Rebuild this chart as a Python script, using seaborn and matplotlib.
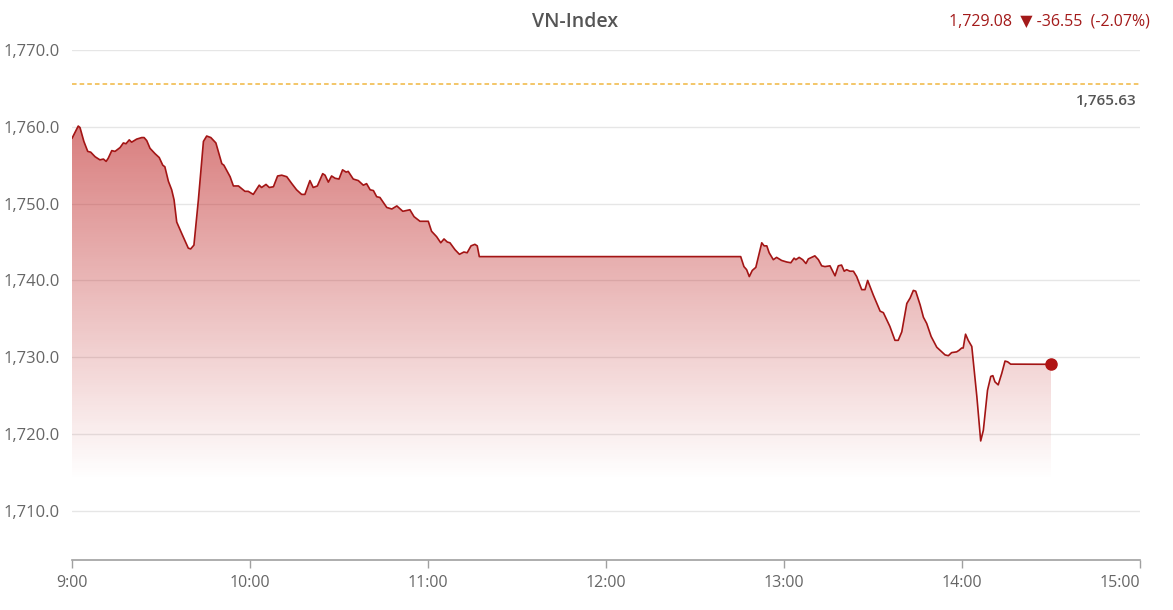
import numpy as np
import pandas as pd
import matplotlib
matplotlib.use("Agg")
import matplotlib.pyplot as plt
import matplotlib.transforms as mtransforms
import seaborn as sns

# minutes after 9:00 and VN-Index value
minutes = [0, 2.1, 2.7, 4.0, 5.3, 6.3, 7.8, 9.4, 10.6, 11.5, 12.2, 13.4, 14.5, 16.2, 17.3,
           18.2, 19.3, 20.1, 21.8, 23.5, 24.3, 25.2, 26.3, 28.0, 29.4, 30.6, 31.3, 32.5,
           33.6, 34.4, 35.3, 37.0, 39.2, 40.0, 41.1, 42.6, 44.3, 45.4, 46.8, 48.5, 50.5,
           51.2, 53.3, 54.4, 56.1, 58.3, 59.4, 61.1, 63.1, 63.9, 65.4, 66.5, 67.9, 69.3,
           70.7, 72.4, 74.1, 75.7, 77.4, 78.5, 80.2, 81.3, 82.7, 84.5, 85.3, 86.4, 87.5,
           88.7, 90.0, 91.2, 92.4, 93.1, 94.8, 96.5, 98.2, 99.3, 100.5, 101.6, 102.7,
           103.8, 106.1, 107.8, 109.5, 111.5, 113.9, 115.3, 117.3, 120.1, 121.2, 122.9,
           124.3, 125.4, 126.5, 127.4, 129.1, 130.6, 132.1, 133.2, 134.5, 135.8, 136.6,
           137.3, 225.4, 226.5, 227.4, 228.3, 229.3, 230.5, 232.5, 233.3, 234.2, 235.0,
           236.4, 237.5, 239.2, 240.9, 242.3, 243.4, 244.0, 245.1, 246.3, 247.4, 248.2,
           250.4, 251.6, 252.7, 253.8, 255.5, 257.2, 258.3, 259.4, 260.3, 261.1, 262.2,
           263.4, 264.5, 266.2, 267.3, 268.2, 270.1, 272.4, 273.5, 275.7, 277.4, 278.5,
           279.7, 281.4, 282.5, 283.6, 284.4, 285.9, 287.0, 288.1, 289.6, 291.5, 292.6,
           294.3, 295.4, 296.5, 298.2, 299.0, 299.9, 300.4, 301.2, 302.1, 303.3, 305.0,
           306.3, 307.2, 308.6, 309.7, 310.4, 311.1, 312.2, 313.4, 314.5, 315.4, 316.4,
           330.0]
values = [1758.5, 1760.1, 1759.9, 1758.1, 1756.8, 1756.7, 1756.1, 1755.7, 1755.8, 1755.5,
          1755.9, 1756.9, 1756.8, 1757.3, 1757.9, 1757.8, 1758.3, 1758.0, 1758.4, 1758.6,
          1758.6, 1758.2, 1757.2, 1756.5, 1756.0, 1755.0, 1754.8, 1752.9, 1751.8, 1750.5,
          1747.6, 1746.1, 1744.2, 1744.1, 1744.6, 1750.5, 1758.1, 1758.8, 1758.6, 1757.9,
          1755.2, 1755.0, 1753.5, 1752.3, 1752.3, 1751.6, 1751.6, 1751.2, 1752.4, 1752.1,
          1752.5, 1752.1, 1752.2, 1753.6, 1753.7, 1753.5, 1752.6, 1751.8, 1751.2, 1751.2,
          1753.0, 1752.1, 1752.3, 1753.9, 1753.7, 1752.8, 1753.6, 1753.3, 1753.2, 1754.4,
          1754.1, 1754.2, 1753.2, 1753.0, 1752.4, 1752.6, 1751.8, 1751.7, 1750.9, 1750.8,
          1749.5, 1749.3, 1749.7, 1749.0, 1749.2, 1748.3, 1747.7, 1747.7, 1746.4, 1745.7,
          1744.9, 1745.4, 1745.0, 1744.9, 1744.0, 1743.4, 1743.7, 1743.6, 1744.5, 1744.7,
          1744.5, 1743.1, 1743.1, 1741.8, 1741.4, 1740.5, 1741.3, 1741.7, 1744.9, 1744.5,
          1744.5, 1743.6, 1742.7, 1743.0, 1742.6, 1742.4, 1742.3, 1742.9, 1742.7, 1743.0,
          1742.7, 1742.2, 1742.8, 1743.2, 1742.7, 1741.9, 1741.8, 1741.9, 1740.6, 1741.9,
          1742.0, 1741.2, 1741.4, 1741.2, 1741.2, 1740.5, 1738.8, 1738.8, 1740.0, 1738.1,
          1736.0, 1735.8, 1734.0, 1732.2, 1732.2, 1733.3, 1737.0, 1737.7, 1738.7, 1738.6,
          1736.8, 1735.2, 1734.4, 1732.7, 1731.3, 1730.9, 1730.3, 1730.2, 1730.6, 1730.7,
          1730.9, 1731.2, 1731.2, 1733.0, 1732.2, 1731.4, 1724.9, 1719.1, 1720.5, 1725.7,
          1727.5, 1727.6, 1726.8, 1726.4, 1727.9, 1729.5, 1729.4, 1729.1, 1729.08]

ref_close = 1765.63
y_ticks = [1710, 1720, 1730, 1740, 1750, 1760, 1770]
x_ticks = [0, 60, 120, 180, 240, 300, 360]
x_labels = ["9:00", "10:00", "11:00", "12:00", "13:00", "14:00", "15:00"]
title = "VN-Index"
summary = "1,729.08  \u25bc -36.55  (-2.07%)"

line_red = "#a31515"
grid_col = "#e6e6e6"
label_col = "#666666"

sns.set_theme(style="white")
plt.rcParams["font.family"] = ["Open Sans", "DejaVu Sans"]

df = pd.DataFrame({"minute": minutes, "index": values})

fig = plt.figure(figsize=(11.73, 6.1), dpi=100)
ax = fig.add_axes([72 / 1173, 50 / 610, (1140 - 72) / 1173, (560 - 50) / 610])

# gradient area under the line
floor = 1714
grad = np.linspace(0.75, 0.0, 256)
img = np.zeros((256, 1, 4))
img[..., 0], img[..., 1], img[..., 2] = 0.76, 0.18, 0.18
img[:, 0, 3] = grad
im = ax.imshow(img, extent=[0, max(minutes), floor, 1770], aspect="auto",
               origin="upper", zorder=1, interpolation="bilinear")
poly = ax.fill_between(df["minute"], df["index"], floor, color="none", lw=0)
im.set_clip_path(poly.get_paths()[0], transform=ax.transData)

sns.lineplot(data=df, x="minute", y="index", ax=ax, color=line_red, lw=1.2, zorder=3)
ax.plot(minutes[-1], values[-1], "o", ms=8, color="#b01414", zorder=4)

ax.axhline(ref_close, color="#f0b640", lw=1.1, ls=(0, (3, 2)), zorder=2)
trans = mtransforms.blended_transform_factory(ax.transAxes, ax.transData)
ax.text(0.997, 1763.4, f"{ref_close:,.2f}", transform=trans, ha="right", va="center",
        fontsize=11, color="#555555", fontweight="semibold")

ax.set_xlim(0, 360)
ax.set_ylim(1703.6, 1770)
ax.set_yticks(y_ticks)
ax.set_yticklabels([f"{v:,.1f}" for v in y_ticks])
ax.set_xticks(x_ticks)
ax.set_xticklabels(x_labels)
ax.xaxis.get_ticklabels()[-1].set_horizontalalignment("right")
ax.set_xlabel("")
ax.set_ylabel("")

ax.grid(axis="y", color=grid_col, lw=1)
ax.grid(axis="x", visible=False)
for side in ["left", "right", "top"]:
    ax.spines[side].set_visible(False)
ax.spines["bottom"].set_color("#a0a0a0")
ax.spines["bottom"].set_linewidth(1.2)
ax.tick_params(axis="x", bottom=True, length=6, width=1, color="#a0a0a0",
               labelsize=11.5, labelcolor=label_col, pad=5)
ax.tick_params(axis="y", left=False, labelsize=12, labelcolor=label_col, pad=3)

fig.text(575 / 1173, 1 - 22 / 610, title, ha="center", va="center", fontsize=14,
         color="#555555", fontweight="semibold")
fig.text(1150 / 1173, 1 - 22 / 610, summary, ha="right", va="center", fontsize=11.5,
         color="#a31a1a")

fig.savefig("out.png", dpi=100)
